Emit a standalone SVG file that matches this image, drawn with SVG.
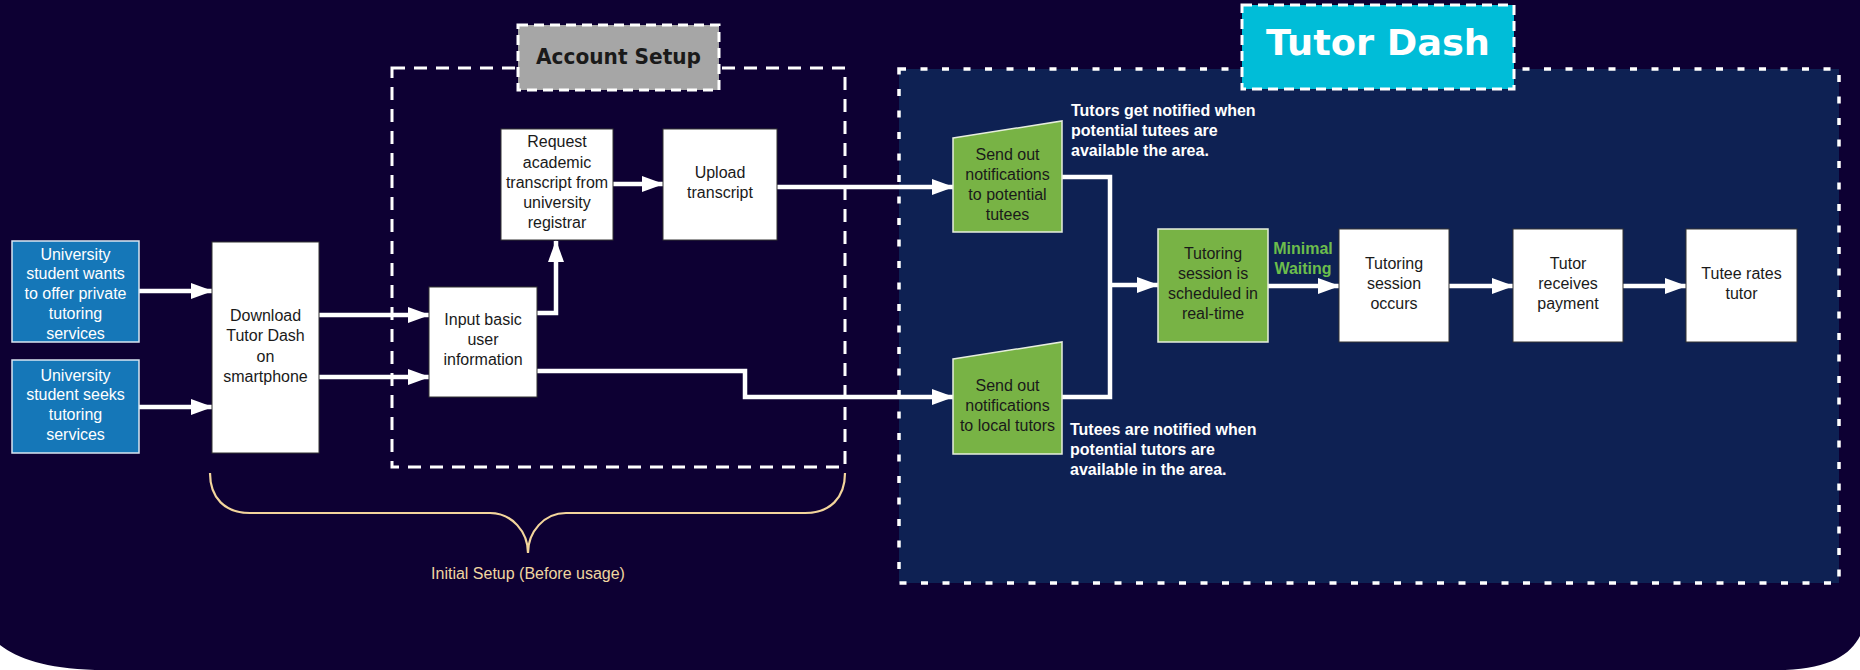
<svg xmlns="http://www.w3.org/2000/svg" width="1860" height="670" viewBox="0 0 1860 670">
  <defs>
    <marker id="arrow" markerUnits="userSpaceOnUse" markerWidth="22" markerHeight="16" refX="21" refY="8" orient="auto">
      <path d="M0,0 L22,8 L0,16 Z" fill="#ffffff"/>
    </marker>
    <style>
      .box { fill: #ffffff; stroke: #333333; stroke-width: 1; }
      .blue { fill: #1577b8; stroke: #d9e6f2; stroke-width: 1.5; }
      .green { fill: #78b345; stroke: #e6eedd; stroke-width: 1.5; }
      .txt { font-family: "Liberation Sans", Arial, sans-serif; font-size: 16px; text-anchor: middle; fill: #1a1a1a; }
      .wtxt { font-family: "Liberation Sans", Arial, sans-serif; font-size: 16px; text-anchor: middle; fill: #ffffff; }
      .note { font-family: "Liberation Sans", Arial, sans-serif; font-size: 16px; font-weight: bold; fill: #ffffff; }
      .wait { font-family: "Liberation Sans", Arial, sans-serif; font-size: 16px; font-weight: bold; fill: #6cbd4c; text-anchor: middle; }
      .conn { fill: none; stroke: #ffffff; stroke-width: 4.5; }
      .title { font-family: "DejaVu Sans", sans-serif; font-weight: bold; }
    </style>
  </defs>

  <!-- page background -->
  <rect x="0" y="0" width="1860" height="670" fill="#ffffff"/>
  <path d="M0,0 H1860 V636 C1850,655 1830,668 1785,670 H95 C45,668 18,659 0,645 Z" fill="#0d0033"/>

  <!-- Tutor Dash region -->
  <g id="tutor-dash-region">
    <rect x="899" y="69" width="940" height="514" fill="#0e2153" stroke="#ffffff" stroke-width="3.5" stroke-dasharray="7 14.5"/>
  </g>

  <!-- Account Setup region -->
  <g id="account-setup-region">
    <rect x="392" y="68" width="453" height="399" fill="none" stroke="#ffffff" stroke-width="3" stroke-dasharray="13 9"/>
  </g>

  <g id="account-setup-label">
    <rect x="518" y="25" width="201" height="65" fill="#a6a6a6" stroke="#ffffff" stroke-width="3" stroke-dasharray="10 6"/>
    <text class="title" x="536" y="64" font-size="21" fill="#1a1a1a" textLength="165" lengthAdjust="spacingAndGlyphs">Account Setup</text>
  </g>

  <g id="tutor-dash-label">
    <rect x="1242" y="5" width="272" height="84" fill="#00bdd8" stroke="#ffffff" stroke-width="3" stroke-dasharray="10 6"/>
    <text class="title" x="1266" y="55" font-size="36" fill="#ffffff" textLength="224" lengthAdjust="spacingAndGlyphs">Tutor Dash</text>
  </g>

  <!-- connectors -->
  <g id="connectors">
    <path class="conn" d="M139,291 H212" marker-end="url(#arrow)"/>
    <path class="conn" d="M139,407 H212" marker-end="url(#arrow)"/>
    <path class="conn" d="M319,315 H429" marker-end="url(#arrow)"/>
    <path class="conn" d="M319,377 H429" marker-end="url(#arrow)"/>
    <path class="conn" d="M537,313 H556 V241" marker-end="url(#arrow)"/>
    <path class="conn" d="M613,184 H663" marker-end="url(#arrow)"/>
    <path class="conn" d="M777,187 H953" marker-end="url(#arrow)"/>
    <path class="conn" d="M537,371 H745 V397 H953" marker-end="url(#arrow)"/>
    <path class="conn" d="M1062,177 H1110 V397 H1062"/>
    <path class="conn" d="M1110,285 H1158" marker-end="url(#arrow)"/>
    <path class="conn" d="M1268,286 H1339" marker-end="url(#arrow)"/>
    <path class="conn" d="M1449,286 H1513" marker-end="url(#arrow)"/>
    <path class="conn" d="M1623,286 H1686" marker-end="url(#arrow)"/>
  </g>

  <!-- nodes -->
  <g id="offer-tutoring">
    <rect class="blue" x="12" y="241" width="127" height="101"/>
    <text class="wtxt" x="75.5" y="259.5">University</text>
    <text class="wtxt" x="75.5" y="279.3">student wants</text>
    <text class="wtxt" x="75.5" y="299.1">to offer private</text>
    <text class="wtxt" x="75.5" y="318.9">tutoring</text>
    <text class="wtxt" x="75.5" y="338.7">services</text>
  </g>

  <g id="seek-tutoring">
    <rect class="blue" x="12" y="360" width="127" height="93"/>
    <text class="wtxt" x="75.5" y="380.5">University</text>
    <text class="wtxt" x="75.5" y="400.3">student seeks</text>
    <text class="wtxt" x="75.5" y="420.1">tutoring</text>
    <text class="wtxt" x="75.5" y="439.9">services</text>
  </g>

  <g id="download-app">
    <rect class="box" x="212" y="242" width="107" height="211"/>
    <text class="txt" x="265.5" y="320.5">Download</text>
    <text class="txt" x="265.5" y="341">Tutor Dash</text>
    <text class="txt" x="265.5" y="361.5">on</text>
    <text class="txt" x="265.5" y="382">smartphone</text>
  </g>

  <g id="input-info">
    <rect class="box" x="429" y="287" width="108" height="110"/>
    <text class="txt" x="483" y="324.5">Input basic</text>
    <text class="txt" x="483" y="344.5">user</text>
    <text class="txt" x="483" y="364.5">information</text>
  </g>

  <g id="request-transcript">
    <rect class="box" x="501" y="129" width="112" height="111"/>
    <text class="txt" x="557" y="147">Request</text>
    <text class="txt" x="557" y="167.5">academic</text>
    <text class="txt" x="557" y="188">transcript from</text>
    <text class="txt" x="557" y="208">university</text>
    <text class="txt" x="557" y="228">registrar</text>
  </g>

  <g id="upload-transcript">
    <rect class="box" x="663" y="129" width="114" height="111"/>
    <text class="txt" x="720" y="178">Upload</text>
    <text class="txt" x="720" y="198">transcript</text>
  </g>

  <g id="notify-tutees">
    <polygon class="green" points="953,138 1062,121 1062,232 953,232"/>
    <text class="txt" x="1007.5" y="159.5">Send out</text>
    <text class="txt" x="1007.5" y="179.5">notifications</text>
    <text class="txt" x="1007.5" y="199.5">to potential</text>
    <text class="txt" x="1007.5" y="219.5">tutees</text>
  </g>

  <g id="notify-tutors">
    <polygon class="green" points="953,359 1062,342 1062,454 953,454"/>
    <text class="txt" x="1007.5" y="390.5">Send out</text>
    <text class="txt" x="1007.5" y="410.5">notifications</text>
    <text class="txt" x="1007.5" y="430.5">to local tutors</text>
  </g>

  <g id="tutors-note">
    <text class="note" x="1071" y="116">Tutors get notified when</text>
    <text class="note" x="1071" y="136">potential tutees are</text>
    <text class="note" x="1071" y="156">available the area.</text>
  </g>

  <g id="tutees-note">
    <text class="note" x="1070" y="435">Tutees are notified when</text>
    <text class="note" x="1070" y="455">potential tutors are</text>
    <text class="note" x="1070" y="475">available in the area.</text>
  </g>

  <g id="session-scheduled">
    <rect class="green" x="1158" y="229" width="110" height="113"/>
    <text class="txt" x="1213" y="259">Tutoring</text>
    <text class="txt" x="1213" y="279">session is</text>
    <text class="txt" x="1213" y="299">scheduled in</text>
    <text class="txt" x="1213" y="319">real-time</text>
  </g>

  <g id="minimal-waiting">
    <text class="wait" x="1303" y="254">Minimal</text>
    <text class="wait" x="1303" y="274">Waiting</text>
  </g>

  <g id="session-occurs">
    <rect class="box" x="1339" y="229" width="110" height="113"/>
    <text class="txt" x="1394" y="269">Tutoring</text>
    <text class="txt" x="1394" y="289">session</text>
    <text class="txt" x="1394" y="309">occurs</text>
  </g>

  <g id="tutor-payment">
    <rect class="box" x="1513" y="229" width="110" height="113"/>
    <text class="txt" x="1568" y="269">Tutor</text>
    <text class="txt" x="1568" y="289">receives</text>
    <text class="txt" x="1568" y="309">payment</text>
  </g>

  <g id="tutee-rates">
    <rect class="box" x="1686" y="229" width="111" height="113"/>
    <text class="txt" x="1741.5" y="279">Tutee rates</text>
    <text class="txt" x="1741.5" y="299">tutor</text>
  </g>

  <!-- initial setup brace -->
  <g id="initial-setup">
    <path d="M210,473 C210,498 225,513 250,513 H490 C512,513 528,532 528,553 C528,532 544,513 566,513 H805 C830,513 845,498 845,473" fill="none" stroke="#f3d59c" stroke-width="2.2"/>
    <text x="528" y="579" font-family="'Liberation Sans', Arial, sans-serif" font-size="16" fill="#f0d6a0" text-anchor="middle">Initial Setup (Before usage)</text>
  </g>
</svg>
